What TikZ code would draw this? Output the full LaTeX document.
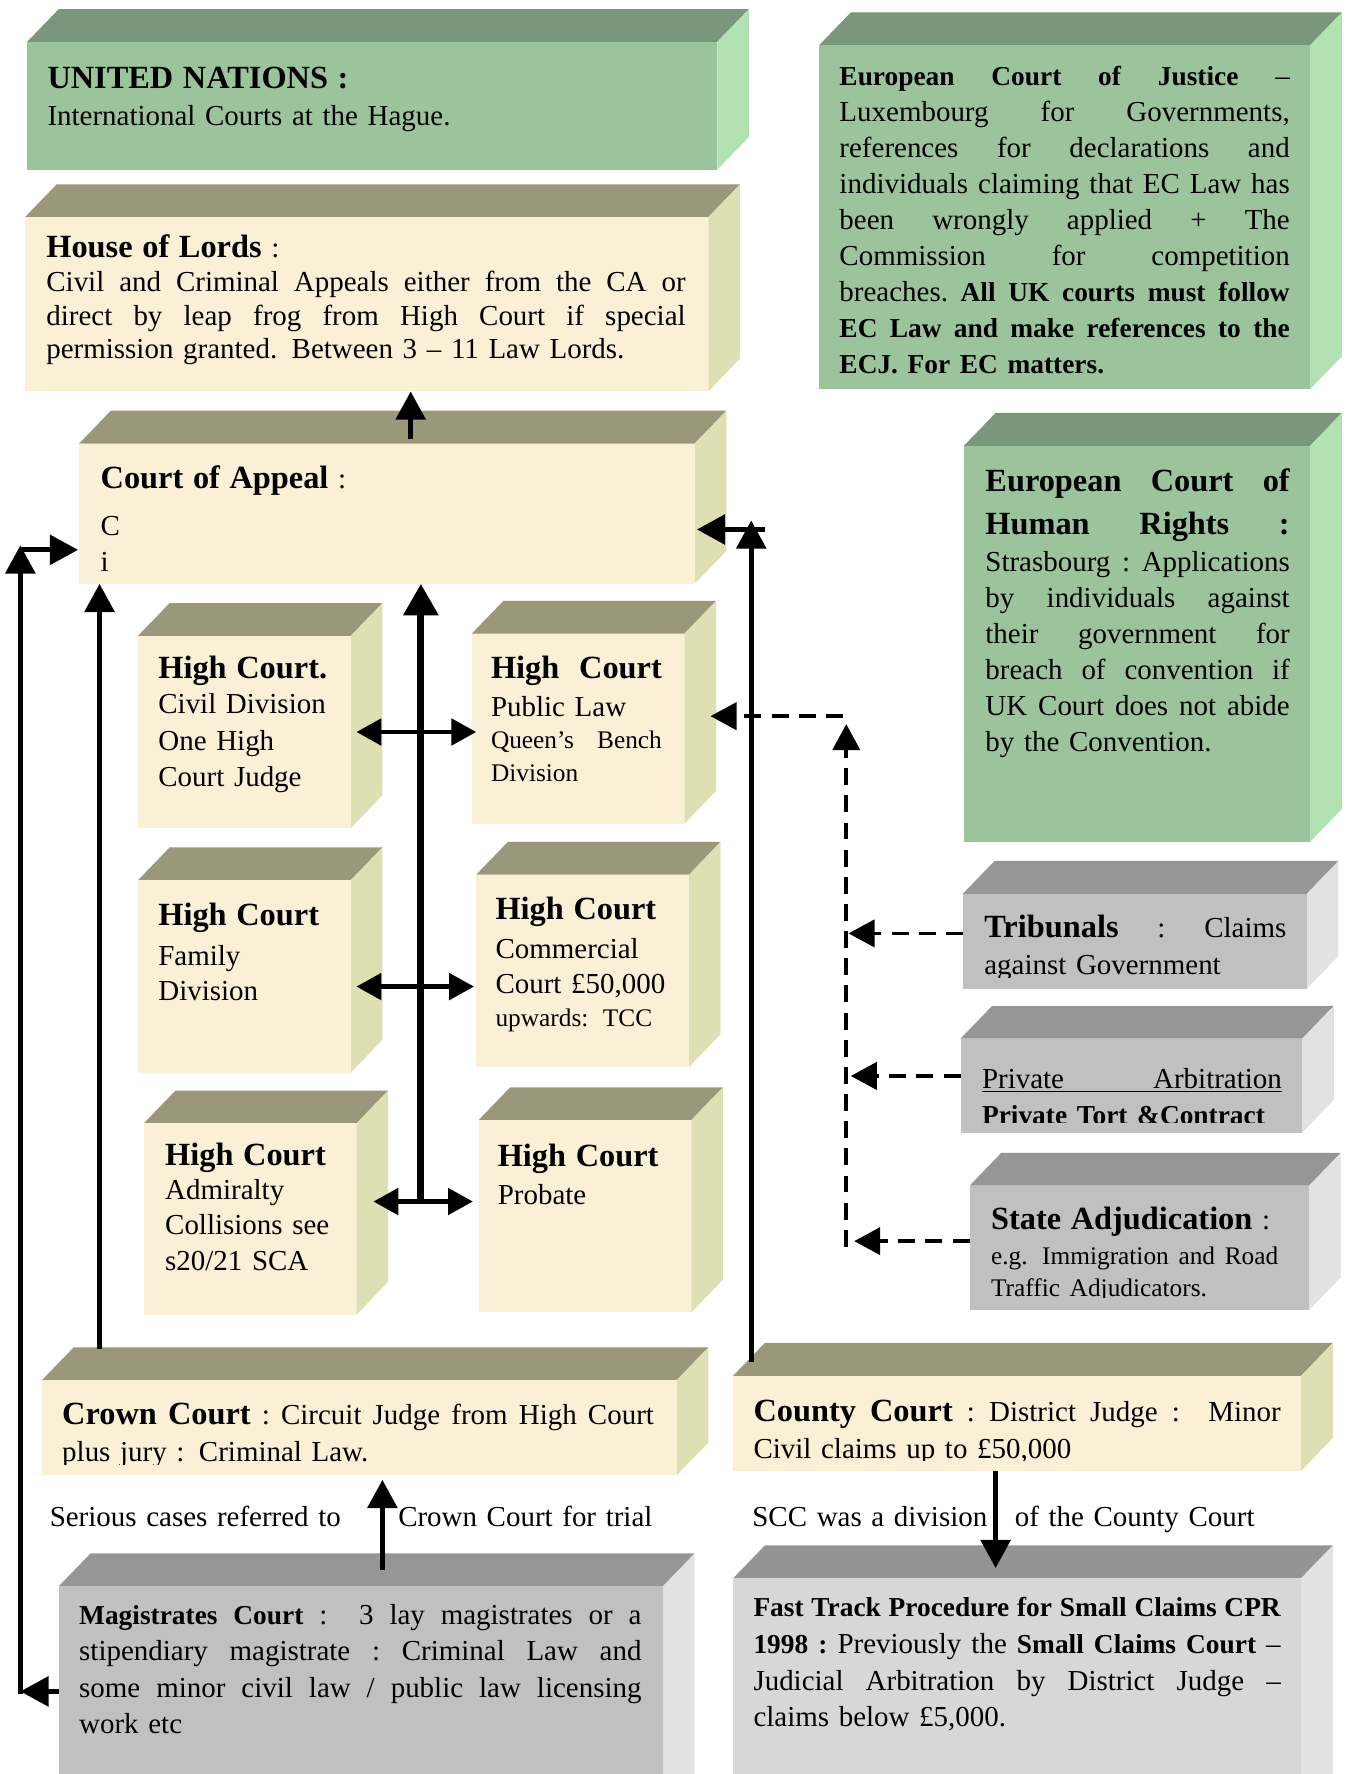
\documentclass[tikz,border=0pt]{standalone}
\usepackage{fontspec}
\setmainfont{Liberation Serif}
\usetikzlibrary{arrows.meta,calc}
\definecolor{gfront}{RGB}{155,196,156}
\definecolor{gtop}{RGB}{122,151,123}
\definecolor{gside}{RGB}{178,226,178}
\definecolor{cfront}{RGB}{250,240,213}
\definecolor{ctop}{RGB}{154,151,122}
\definecolor{cside}{RGB}{223,223,180}
\definecolor{kfront}{RGB}{192,192,192}
\definecolor{ktop}{RGB}{150,150,150}
\definecolor{kside}{RGB}{226,226,226}
\definecolor{ffront}{RGB}{215,215,215}
\definecolor{ftop}{RGB}{148,148,148}
\definecolor{fside}{RGB}{226,226,226}
\newcommand{\hdf}{\fontsize{14.3pt}{14pt}\selectfont\bfseries}
\newcommand{\bdf}{\fontsize{12.1pt}{12pt}\selectfont\bfseries}
\newcommand{\smf}{\fontsize{11.2pt}{12pt}\selectfont}
\newcommand{\jl}[2]{\leavevmode\hbox to #1{\spaceskip=0.25em plus 1fil\relax\xspaceskip=0.25em plus 1fil\relax #2}}
% name, scheme, x1, y1, x2, y2
\newcommand{\courtbox}[6]{%
  \fill[#2top] (#3,#4) -- ({#3+28},{#4-29}) -- ({#5+28},{#4-29}) -- (#5,#4) -- cycle;
  \fill[#2side] (#5,#4) -- ({#5+28},{#4-29}) -- ({#5+28},{#6-29}) -- (#5,#6) -- cycle;
  \node[front, fill=#2front, minimum width={(#5-#3)*0.5pt}, minimum height={(#6-#4)*0.5pt}] (#1) at ({(#3+#5)/2},{(#4+#6)/2}) {};
}
\begin{document}
\begin{tikzpicture}[x=0.5pt,y=-0.5pt,
  front/.style={inner sep=0pt, outer sep=0pt, draw=none},
  txt/.style={anchor=base west, inner sep=0pt, outer sep=0pt, align=left, text width=#1},
  arr/.style={line width=2.2pt, -{Triangle[length=12.5pt,width=13pt]}},
  dbl/.style={line width=2.2pt, {Triangle[length=11pt,width=11.5pt]}-{Triangle[length=11pt,width=11.5pt]}},
  darr/.style={line width=1.6pt, dash pattern=on 7.5pt off 4.5pt, -{Triangle[length=11.5pt,width=12pt]}},
]
\useasboundingbox (0,0) rectangle (1196,1568);
\clip (0,0) rectangle (1196,1568);
\fill[white] (0,0) rectangle (1196,1568);

% boxes
\courtbox{un}{g}{24}{37}{634}{150}
\courtbox{ecj}{g}{724}{40}{1158}{344}
\courtbox{hol}{c}{22}{192}{626}{346}
\courtbox{ca}{c}{70}{392}{614}{516}
\courtbox{echr}{g}{852}{394}{1158}{744}
\courtbox{hcciv}{c}{122}{562}{310}{732}
\courtbox{hcpub}{c}{417}{560}{605}{728}
\courtbox{hcfam}{c}{122}{778}{310}{948}
\courtbox{hccom}{c}{421}{773}{609}{943}
\courtbox{hcadm}{c}{127}{993}{315}{1162}
\courtbox{hcpro}{c}{423}{990}{611}{1160}
\courtbox{trib}{k}{851}{790}{1155}{874}
\courtbox{priv}{k}{849}{918}{1151}{1001}
\courtbox{state}{k}{857}{1048}{1157}{1158}
\courtbox{crown}{c}{37}{1220}{598}{1304}
\courtbox{county}{c}{648}{1216}{1150}{1300}
\courtbox{mag}{k}{52}{1402}{586}{1620}
\courtbox{fast}{f}{648}{1395}{1150}{1620}

% connectors
\coordinate (a1) at (363,388);
\draw[arr] (a1) -- (a1 |- hol.south);
\coordinate (sp) at (372,1062);
\draw[arr, line width=3pt, -{Triangle[length=14pt,width=15pt]}] (sp) -- (sp |- ca.south);
\coordinate (r1) at (372,647);
\coordinate (r2) at (372,872);
\coordinate (r3) at (372,1062);
\draw[dbl] ($(r1 -| hcciv.east)+(5,0)$) -- ($(r1 -| hcpub.west)+(4,0)$);
\draw[dbl] ($(r2 -| hcfam.east)+(5,0)$) -- ($(r2 -| hccom.west)+(-2,0)$);
\draw[dbl] ($(r3 -| hcadm.east)+(15,0)$) -- ($(r3 -| hcpro.west)+(-5,0)$);
\coordinate (c1) at (88,1192);
\draw[arr] (c1) -- (c1 |- ca.south);
\coordinate (m1) at (18,1495);
\coordinate (m2) at (18,482);
\coordinate (m3) at (18,486);
\draw[arr] (m1 -| mag.west) -- (m1);
\draw[arr] ($(m1)+(0,2)$) -- (m2);
\draw[arr] (m3) -- ($(m3 -| ca.west)+(-1,0)$);
\coordinate (k1) at (664,1204);
\coordinate (k2) at (664,460);
\coordinate (k3) at (676,468);
\draw[arr] (k1) -- (k2);
\draw[arr] (k3) -- ($(k3 -| ca.east)+(2,0)$);
\coordinate (d1) at (748,1102);
\coordinate (d2) at (748,640);
\coordinate (d3) at (745,633);
\draw[darr] (d1) -- (d2);
\draw[darr] (d3) -- ($(d3 -| hcpub.east)+(23,0)$);
\coordinate (t1) at (750,825);
\coordinate (p1) at (752,951);
\coordinate (s1) at (755,1097);
\draw[darr] (t1 -| trib.west) -- (t1);
\draw[darr] (p1 -| priv.west) -- (p1);
\draw[darr] (s1 -| state.west) -- (s1);
\coordinate (g1) at (338,1388);
\draw[arr] (g1) -- ($(g1 |- crown.south)+(0,4)$);
\coordinate (h1) at (880,1386);
\draw[arr] (h1 |- county.south) -- (h1);

% texts
\node[txt=300pt, font={\fontsize{12.8pt}{16.5pt}\selectfont}] (unT) at (42,78)
  {{\hdf UNITED NATIONS :}\\International Courts at the Hague.};

\node[txt=199pt, font={\fontsize{12.8pt}{15.9pt}\selectfont}] (ecjT) at (742,76)
  {\jl{199pt}{{\bdf European Court of Justice} –}\\
   \jl{199pt}{Luxembourg for Governments,}\\
   \jl{199pt}{references for declarations and}\\
   \jl{199pt}{individuals claiming that EC Law has}\\
   \jl{199pt}{been wrongly applied + The}\\
   \jl{199pt}{Commission for competition}\\
   \jl{199pt}{breaches. {\bdf All UK courts must follow}}\\
   \jl{199pt}{\bdf EC Law and make references to the}\\
   {\bdf ECJ. For EC matters.}};

\node[txt=282.5pt, font={\fontsize{12.8pt}{14.85pt}\selectfont}] (holT) at (41,228)
  {{\hdf House of Lords} :\\
   \jl{282.5pt}{Civil and Criminal Appeals either from the CA or}\\
   \jl{282.5pt}{direct by leap frog from High Court if special}\\
   permission granted. Between 3 – 11 Law Lords.};

\node[txt=250pt, font={\fontsize{12.8pt}{16pt}\selectfont}] (caT) at (89,432)
  {{\hdf Court of Appeal} :\\[4.5pt]C\\i};

\node[txt=134.5pt, font={\fontsize{12.8pt}{15.9pt}\selectfont}] (echrT) at (871,434)
  {\jl{134.5pt}{\hdf European Court of}\\[3.1pt]
   \jl{134.5pt}{\hdf Human Rights :}\\[0.6pt]
   \jl{134.5pt}{Strasbourg : Applications}\\
   \jl{134.5pt}{by individuals against}\\
   \jl{134.5pt}{their government for}\\
   \jl{134.5pt}{breach of convention if}\\
   \jl{134.5pt}{UK Court does not abide}\\
   by the Convention.};

\node[txt=95pt, font={\fontsize{12.8pt}{16pt}\selectfont}] (hccivT) at (140,600)
  {{\hdf High Court.}\\[-0.5pt]Civil Division\\One High\\Court Judge};

\node[txt=75.5pt, font={\fontsize{12.8pt}{14.5pt}\selectfont}] (hcpubT) at (434,600)
  {\jl{75.5pt}{\hdf High Court}\\[2pt]Public Law\\{\smf\jl{75.5pt}{Queen’s Bench}}\\{\smf Division}};

\node[txt=95pt, font={\fontsize{12.8pt}{15.5pt}\selectfont}] (hcfamT) at (140,818)
  {{\hdf High Court}\\[2pt]Family\\Division};

\node[txt=95pt, font={\fontsize{12.8pt}{15.5pt}\selectfont}] (hccomT) at (438,813)
  {{\hdf High Court}\\[1.5pt]Commercial\\Court £50,000\\[-1pt]{\smf upwards: TCC}};

\node[txt=95pt, font={\fontsize{12.8pt}{15.7pt}\selectfont}] (hcadmT) at (146,1030)
  {{\hdf High Court}\\[-0.7pt]Admiralty\\Collisions see\\s20/21 SCA};

\node[txt=95pt, font={\fontsize{12.8pt}{17pt}\selectfont}] (hcproT) at (440,1031)
  {{\hdf High Court}\\Probate};

\begin{scope}
\clip (trib.north west) rectangle ([yshift=5pt]trib.south east);
\node[txt=133.5pt, font={\fontsize{12.8pt}{16pt}\selectfont}] (tribT) at (870,829)
  {\jl{133.5pt}{{\hdf Tribunals} : Claims}\\against Government};
\end{scope}

\begin{scope}
\clip (priv.north west) rectangle ([yshift=4.5pt]priv.south east);
\node[txt=132.5pt, font={\fontsize{12.8pt}{16pt}\selectfont}] (privT) at (868,962)
  {\underline{\jl{132.5pt}{Private Arbitration}}\\{\bdf Private Tort \&Contract}};
\end{scope}

\begin{scope}
\clip (state.north west) rectangle ([yshift=5.5pt]state.south east);
\node[txt=140pt, font={\fontsize{12.8pt}{14pt}\selectfont}] (stateT) at (876,1087)
  {{\hdf State Adjudication} :\\[1.5pt]{\smf e.g. Immigration and Road}\\{\smf Traffic Adjudicators.}};
\end{scope}

\begin{scope}
\clip (crown.north west) rectangle ([yshift=5pt]crown.south east);
\node[txt=261.5pt, font={\fontsize{12.8pt}{16.5pt}\selectfont}] (crownT) at (55,1259)
  {\jl{261.5pt}{{\hdf Crown Court} : Circuit Judge from High Court}\\plus jury : Criminal Law.};
\end{scope}

\begin{scope}
\clip (county.north west) rectangle ([yshift=4.5pt]county.south east);
\node[txt=233pt, font={\fontsize{12.8pt}{16.5pt}\selectfont}] (countyT) at (666,1256)
  {\jl{233pt}{{\hdf County Court} : District Judge :\ \ Minor}\\Civil claims up to £50,000};
\end{scope}

\node[txt=248.5pt, font={\fontsize{12.8pt}{16pt}\selectfont}] (magT) at (70,1436)
  {\jl{248.5pt}{{\bdf Magistrates Court} :\ \ 3 lay magistrates or a}\\
   \jl{248.5pt}{stipendiary magistrate : Criminal Law and}\\
   \jl{248.5pt}{some minor civil law / public law licensing}\\
   work etc};

\node[txt=233pt, font={\fontsize{12.8pt}{16.2pt}\selectfont}] (fastT) at (666,1429)
  {\jl{233pt}{\bdf Fast Track Procedure for Small Claims CPR}\\
   \jl{233pt}{{\bdf 1998 :} Previously the {\bdf Small Claims Court} –}\\
   \jl{233pt}{Judicial Arbitration by District Judge –}\\
   claims below £5,000.};

\node[txt=150pt, font={\fontsize{12.8pt}{16pt}\selectfont}] (lab1) at (44,1349) {Serious cases referred to};
\node[txt=150pt, font={\fontsize{12.8pt}{16pt}\selectfont}] (lab2) at (352,1349) {Crown Court for trial};
\node[txt=150pt, font={\fontsize{12.8pt}{16pt}\selectfont}] (lab3) at (665,1349) {SCC was a division};
\node[txt=150pt, font={\fontsize{12.8pt}{16pt}\selectfont}] (lab4) at (897,1349) {of the County Court};
\end{tikzpicture}
\end{document}
